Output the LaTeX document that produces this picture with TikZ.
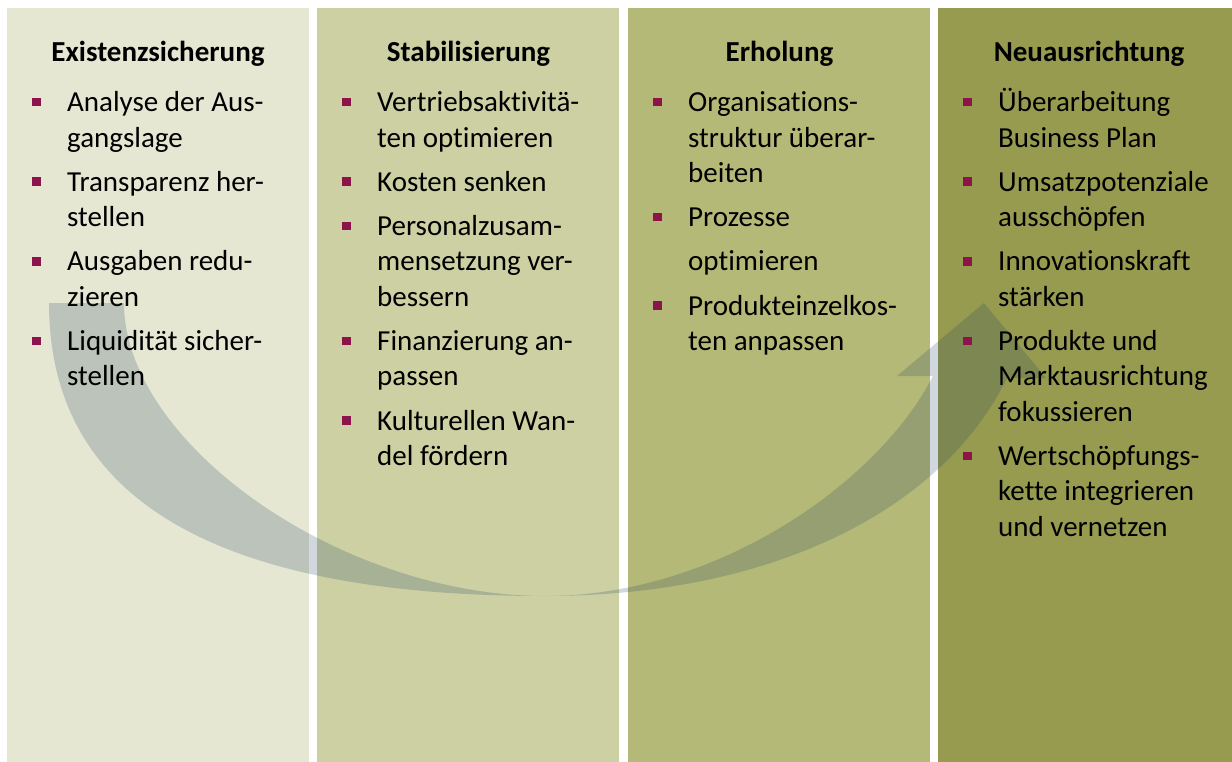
\documentclass[tikz,border=0pt]{standalone}
\usepackage{fontspec}
\setmainfont{Carlito}[Ligatures=NoCommon]
\usepackage{xcolor}
\usepackage{tikz}
\definecolor{phaseA}{HTML}{E6E7D2}
\definecolor{phaseB}{HTML}{CCD0A3}
\definecolor{phaseC}{HTML}{B5B977}
\definecolor{phaseD}{HTML}{979B50}
\definecolor{bulletRed}{HTML}{8C144B}
\definecolor{arrowNavy}{HTML}{17375E}

% one bullet point, square hanging to the left of the text
\newcommand{\itm}[1]{\par\noindent\llap{\textcolor{bulletRed}{\rule[5.3pt]{8.5pt}{8.5pt}}\hspace{26.5pt}}#1}
% the bullet list of a phase
\newcommand{\phaselist}[1]{\parbox[t]{235pt}{\fontsize{29}{35.4}\selectfont\setlength{\parskip}{8.8pt}#1}}

\begin{document}
\begin{tikzpicture}[x=1pt, y=-1pt,
  phase/.style={anchor=north west, inner sep=0pt, minimum width=302pt, minimum height=754pt},
  title/.style={anchor=base, inner sep=0pt, font=\fontsize{29}{34}\selectfont\bfseries},
  items/.style={anchor=base west, inner sep=0pt}]
  \useasboundingbox (0,0) rectangle (1232,762);
% --- the four phases ---
  \node[phase, fill=phaseA] (p1) at (7,8) {};
  \node[phase, fill=phaseB] (p2) at (317,8) {};
  \node[phase, fill=phaseC] (p3) at (628,8) {};
  \node[phase, fill=phaseD, minimum width=294pt] (p4) at (938,8) {};
% --- curved arrow across the phases ---
  \fill[arrowNavy, fill opacity=0.2]
    (49,303) .. controls (49,513) and (240,596) .. (545,596)
    .. controls (780,596) and (945,505) .. (1007,378)
    -- (1046,378) -- (984,303) -- (897,376) -- (933,376)
    .. controls (880,480) and (720,596) .. (545,596)
    .. controls (340,596) and (124,443) .. (124,303) -- cycle;
% --- headings ---
  \node[title] (t1) at (158,61.7) {Existenzsicherung};
  \node[title] (t2) at (468.5,61.7) {Stabilisierung};
  \node[title] (t3) at (779.5,61.7) {Erholung};
  \node[title] (t4) at (1089,61.7) {Neuausrichtung};
% --- measures ---
  \node[items] (l1) at (67,111.7) {\phaselist{%
    \itm{Analyse der Aus-\\gangslage}
    \itm{Transparenz her-\\stellen}
    \itm{Ausgaben redu-\\zieren}
    \itm{Liquidität sicher-\\stellen}}};
  \node[items] (l2) at (377,111.7) {\phaselist{%
    \itm{Vertriebsaktivitä-\\ten optimieren}
    \itm{Kosten senken}
    \itm{Personalzusam-\\mensetzung ver-\\bessern}
    \itm{Finanzierung an-\\passen}
    \itm{Kulturellen Wan-\\del fördern}}};
  \node[items] (l3) at (688,111.7) {\phaselist{%
    \itm{Organisations-\\struktur überar-\\beiten}
    \itm{Prozesse}\par optimieren
    \itm{Produkteinzelkos-\\ten anpassen}}};
  \node[items] (l4) at (998,111.7) {\phaselist{%
    \itm{Überarbeitung\\Business Plan}
    \itm{Umsatzpotenziale\\ausschöpfen}
    \itm{Innovationskraft\\stärken}
    \itm{Produkte und\\Marktausrichtung\\fokussieren}
    \itm{Wertschöpfungs-\\kette integrieren\\und vernetzen}}};
\end{tikzpicture}
\end{document}
